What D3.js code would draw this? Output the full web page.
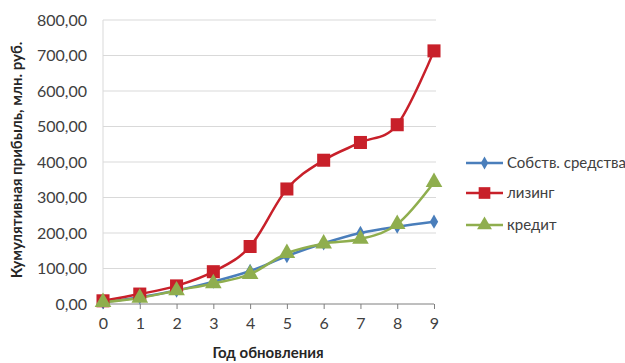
<!DOCTYPE html>
<html><head><meta charset="utf-8">
<script src="https://cdn.jsdelivr.net/npm/d3@7"></script>
<style>body{margin:0;background:#fff}svg{display:block}text{font-family:Lato,"Open Sans",sans-serif}</style>
</head><body>
<svg id="c" width="625" height="363"></svg>
<script>
const years = [0,1,2,3,4,5,6,7,8,9];
const ownFunds = [5,19,38,63,93,135,171,200,218,232];
const leasing = [9,28,51,91,162,324,405,455,505,713];
const credit = [5,17,38,58,84,143,170,183,225,343];
const yTicks = [0,100,200,300,400,500,600,700,800];
const seriesNames = ["Собств. средства","лизинг","кредит"];
const colors = ["#4A7EBB","#C8202A","#8FAE4E"];
const markers = ["diamond","square","triangle"];

const svg = d3.select("#c");
const x = d3.scaleLinear().domain([0,9]).range([103,434]);
const y = d3.scaleLinear().domain([0,800]).range([304,20]);
const fmt = d => d3.format(".2f")(d).replace(".", ",");

// gridlines
svg.append("g").selectAll("line").data(yTicks.slice(1)).join("line")
  .attr("x1",103).attr("x2",436).attr("y1",d=>y(d)).attr("y2",d=>y(d))
  .attr("stroke","#D9D9D9").attr("stroke-width",1);
// y axis line
svg.append("line").attr("x1",103).attr("x2",103).attr("y1",y(800)).attr("y2",y(0))
  .attr("stroke","#D9D9D9");
// y tick labels
const ya = svg.append("g").attr("transform","translate(103,0)")
  .call(d3.axisLeft(y).tickValues(yTicks).tickFormat(fmt).tickSize(0).tickPadding(16));
ya.select(".domain").remove();
ya.selectAll("text").attr("font-size",16).attr("fill","#404040").attr("font-family","Lato");

// x axis
const xa = svg.append("g").attr("transform","translate(0,"+y(0)+")")
  .call(d3.axisBottom(x).tickValues(years).tickFormat(d3.format("d")).tickSizeOuter(0).tickSize(5).tickPadding(9));
xa.select(".domain").attr("stroke","#7F7F7F").attr("d","M103,0H434");
xa.selectAll("line").attr("stroke","#7F7F7F");
xa.selectAll("text").attr("font-size",16).attr("fill","#404040").attr("font-family","Lato");

// titles
svg.append("text").attr("x",268).attr("y",358).attr("text-anchor","middle")
  .attr("font-size",15).attr("font-weight","bold").attr("fill","#262626").text("Год обновления");
svg.append("text").attr("transform","translate(22,160) rotate(-90)").attr("text-anchor","middle")
  .attr("font-size",15).attr("font-weight","bold").attr("fill","#262626").text("Кумулятивная прибыль, млн. руб.");

const data = [ownFunds, leasing, credit];
const line = d3.line().x((d,i)=>x(years[i])).y(d=>y(d)).curve(d3.curveCardinal.tension(0));
const sym = {diamond:[d3.symbolDiamond,60], square:[d3.symbolSquare,170], triangle:[d3.symbolTriangle,120]};

data.forEach((vals,k)=>{
  svg.append("path").datum(vals).attr("d",line).attr("fill","none")
    .attr("stroke",colors[k]).attr("stroke-width",2.5);
});
data.forEach((vals,k)=>{
  const [s,sz] = sym[markers[k]];
  svg.append("g").selectAll("path").data(vals).join("path")
    .attr("transform",(d,i)=>"translate("+x(years[i])+","+y(d)+")")
    .attr("d",d3.symbol().type(s).size(sz)).attr("fill",colors[k]);
});

// legend
const ly = [163,193,225];
seriesNames.forEach((n,k)=>{
  const g = svg.append("g");
  g.append("line").attr("x1",466).attr("x2",503).attr("y1",ly[k]).attr("y2",ly[k])
    .attr("stroke",colors[k]).attr("stroke-width",2.5);
  const [s,sz] = sym[markers[k]];
  g.append("path").attr("transform","translate(484.5,"+ly[k]+")")
    .attr("d",d3.symbol().type(s).size(sz*0.8)).attr("fill",colors[k]);
  g.append("text").attr("x",507).attr("y",ly[k]).attr("dy","0.35em")
    .attr("font-size",15).attr("fill","#404040").text(n);
});
</script>
</body></html>
